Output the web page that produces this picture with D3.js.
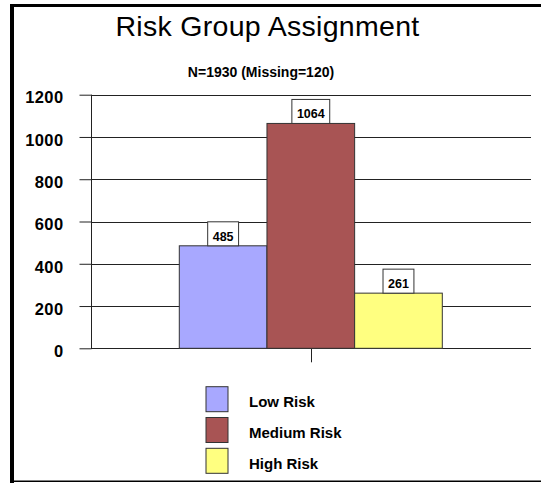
<!DOCTYPE html>
<html><head><meta charset="utf-8">
<script src="https://cdn.jsdelivr.net/npm/d3@7"></script>
<style>body{margin:0;background:#fff}svg{display:block;font-family:"Liberation Sans",Arial,sans-serif}</style>
</head><body>
<svg id="c" width="541" height="483"></svg>
<script>
const series = ["Low Risk", "Medium Risk", "High Risk"];
const values = [485, 1064, 261];
const colors = ["#a8a8ff", "#a85454", "#ffff80"];
const yTicks = [0, 200, 400, 600, 800, 1000, 1200];
const titleText = "Risk Group Assignment";
const subtitleText = "N=1930 (Missing=120)";

const svg = d3.select("#c");
// frame
svg.append("rect").attr("x",10).attr("y",4).attr("width",531).attr("height",3).attr("fill","#000");
svg.append("rect").attr("x",10).attr("y",4).attr("width",4).attr("height",479).attr("fill","#000");
svg.append("rect").attr("x",10).attr("y",480.5).attr("width",531).attr("height",1.5).attr("fill","#000");

svg.append("text").attr("x",267.5).attr("y",36).attr("text-anchor","middle")
  .attr("font-size",28.5).attr("letter-spacing",0.3).text(titleText);
svg.append("text").attr("x",261).attr("y",77).attr("text-anchor","middle")
  .attr("font-size",14).attr("font-weight","bold").text(subtitleText);

const y = d3.scaleLinear().domain([0,1200]).range([348.3, 94.7]);
const x = d3.scaleBand().domain(series).range([179.3, 442.3]).padding(0);
const xL = 91, xR = 531;

// gridlines
svg.append("g").selectAll("line").data(yTicks).join("line")
  .attr("x1", xL).attr("x2", xR)
  .attr("y1", d => Math.round(y(d))+0.5).attr("y2", d => Math.round(y(d))+0.5)
  .attr("stroke", "#222").attr("stroke-width", 1);

// y axis
const ax = svg.append("g").attr("transform", `translate(${xL+0.5},0)`)
  .call(d3.axisLeft(y).tickValues(yTicks).tickSize(12).tickPadding(16).tickFormat(d3.format("d")));
ax.select(".domain").attr("stroke","#222").attr("d", `M-0,${y(0)}V${y(1200)}`);
ax.selectAll(".tick line").attr("stroke","#222");
ax.selectAll(".tick text").attr("font-size",16.5).attr("font-weight","bold").attr("letter-spacing",0.4)
  .attr("font-family","Liberation Sans, Arial, sans-serif").attr("fill","#000").attr("dy","0.5em");

// center category tick
svg.append("line").attr("x1",311.5).attr("x2",311.5).attr("y1",y(0)).attr("y2",y(0)+14)
  .attr("stroke","#222");

// bars
svg.append("g").selectAll("rect").data(values).join("rect")
  .attr("x", (d,i) => x(series[i])).attr("width", x.bandwidth())
  .attr("y", d => y(d)).attr("height", d => y(0) - y(d))
  .attr("fill", (d,i) => colors[i]).attr("stroke", "#333").attr("stroke-width", 1);

// value labels
const lg = svg.append("g").selectAll("g").data(values).join("g");
lg.each(function(d,i){
  const g = d3.select(this);
  const cx = x(series[i]) + x.bandwidth()/2;
  const t = g.append("text").attr("x", cx).attr("y", y(d) - 5).attr("text-anchor","middle")
    .attr("font-size",12.5).attr("font-weight","bold").text(d);
  const w = t.node().getBBox().width + 10;
  g.insert("rect","text").attr("x", cx - w/2).attr("y", y(d) - 24).attr("width", w).attr("height", 24)
    .attr("fill","#fff").attr("stroke","#333").attr("stroke-width",1);
});

// legend
const leg = svg.append("g").selectAll("g").data(series).join("g")
  .attr("transform", (d,i) => `translate(206,${386.7 + i*30.8})`);
leg.append("rect").attr("width",22).attr("height",25).attr("fill",(d,i)=>colors[i])
  .attr("stroke","#333").attr("stroke-width",1);
leg.append("text").attr("x",43).attr("y",20.5).attr("font-size",15).attr("font-weight","bold").text(d=>d);
</script>
</body></html>
